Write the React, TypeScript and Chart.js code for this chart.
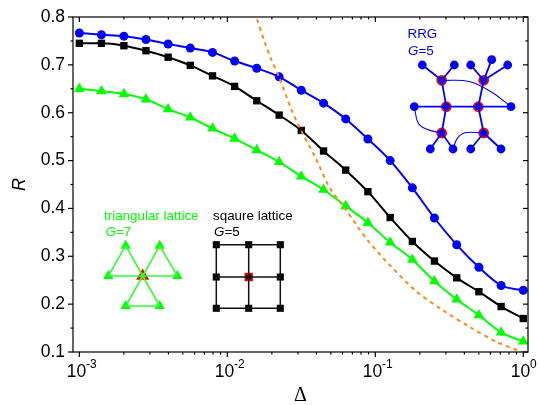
import React, { useEffect, useRef } from "react";
import { Chart, registerables } from "chart.js";

Chart.register(...registerables);

const deltaValues = [0.001, 0.00141, 0.002, 0.00282, 0.00398, 0.00562, 0.00794, 0.0112, 0.0158, 0.0224, 0.0316, 0.0447, 0.0631, 0.0891, 0.126, 0.178, 0.251, 0.355, 0.501, 0.708, 1];
const rrgR = [0.7665, 0.763, 0.76, 0.753, 0.7435, 0.735, 0.726, 0.708, 0.693, 0.675, 0.647, 0.62, 0.587, 0.545, 0.5, 0.443, 0.38, 0.324, 0.277, 0.239, 0.229];
const squareR = [0.745, 0.745, 0.74, 0.7295, 0.716, 0.699, 0.677, 0.655, 0.625, 0.595, 0.563, 0.52, 0.48, 0.435, 0.381, 0.331, 0.29, 0.255, 0.226, 0.195, 0.17];
const triangularR = [0.65, 0.645, 0.639, 0.628, 0.6075, 0.59, 0.567, 0.546, 0.522, 0.497, 0.467, 0.439, 0.405, 0.37, 0.329, 0.293, 0.248, 0.21, 0.177, 0.141, 0.122];
const theoryDelta = [0.0151, 0.0158, 0.018, 0.01995, 0.02234, 0.02723, 0.03148, 0.0391, 0.0494, 0.0624, 0.0748, 0.0889, 0.1089, 0.1194, 0.1854, 0.2735, 0.4365, 0.6607, 0.92, 1];
const theoryR = [0.81, 0.797, 0.745, 0.709, 0.675, 0.605, 0.563, 0.508, 0.442, 0.4, 0.365, 0.333, 0.302, 0.288, 0.229, 0.191, 0.152, 0.121, 0.103, 0.098];

const xTickExponents = [-3, -2, -1, 0];
const yTicks = [0.1, 0.2, 0.3, 0.4, 0.5, 0.6, 0.7, 0.8];

// Inset diagrams, in units measured from the lower-left corner of the plot.
const rrgLeaves = [[349.3, 287], [381.3, 287], [397.7, 287], [418.7, 292.3], [434.7, 287], [341.3, 245.3], [438, 245.3], [357.3, 203], [380, 203], [397.7, 203], [428, 203]];
const rrgHubs = [[368.7, 271.7], [410.7, 271.7], [373.3, 245.3], [405.3, 245.3], [368.7, 219], [410.7, 219]];
const rrgEdges = [
  [[349.3, 287], [368.7, 271.7]], [[381.3, 287], [368.7, 271.7]],
  [[397.7, 287], [410.7, 271.7]], [[418.7, 292.3], [410.7, 271.7]], [[434.7, 287], [410.7, 271.7]],
  [[368.7, 271.7], [373.3, 245.3]], [[410.7, 271.7], [405.3, 245.3]],
  [[373.3, 245.3], [368.7, 219]], [[405.3, 245.3], [410.7, 219]],
  [[341.3, 245.3], [438, 245.3]],
  [[368.7, 219], [357.3, 203]], [[368.7, 219], [380, 203]],
  [[410.7, 219], [397.7, 203]], [[410.7, 219], [428, 203]],
];
const rrgCurves = [
  [[368.7, 271.7], [397, 270.3], [420.3, 258.7], [438, 245.3]],
  [[341.3, 245.3], [345.3, 228.7], [353.7, 222.7], [368.7, 219]],
  [[380, 203], [384.3, 213.7], [392, 219.3], [410.7, 219]],
];
const triNodes = [[52.7, 106.3], [86.7, 106.3], [35.3, 76], [104.3, 76], [52.7, 46], [86.7, 46]];
const triCentre = [[69.7, 76]];
const triEdges = [
  [[35.3, 76], [104.3, 76]],
  [[35.3, 76], [52.7, 106.3], [69.7, 76]],
  [[69.7, 76], [86.7, 106.3], [104.3, 76]],
  [[69.7, 76], [52.7, 46], [86.7, 46], [69.7, 76]],
];
const sqXs = [143.3, 175.7, 207.3];
const sqYs = [107.3, 75, 43.7];
const sqNodes = sqXs.flatMap((x) => sqYs.map((y) => [x, y])).filter(([x, y]) => !(x === sqXs[1] && y === sqYs[1]));
const sqCentre = [[sqXs[1], sqYs[1]]];
const sqEdges = [
  ...sqXs.map((x) => sqYs.map((y) => [x, y])),
  ...sqYs.map((y) => sqXs.map((x) => [x, y])),
];

const BLUE = "#0000ff";
const GREEN = "#00ff00";
const BLACK = "#000000";
const RED = "#ff0000";
const ORANGE = "#ff8a1a";
const SANS = "'Liberation Sans', Arial, sans-serif";

const toPts = (list: number[][]) => list.map(([x, y]) => ({ x, y }));
const zip = (xs: number[], ys: number[]) => xs.map((x, i) => ({ x, y: ys[i] }));

function series(xs: number[], ys: number[], color: string, pointStyle: string, radius: number) {
  return {
    data: zip(xs, ys), showLine: true, borderColor: color, backgroundColor: color, borderWidth: 2,
    pointStyle, pointRadius: radius, pointBorderWidth: 0, cubicInterpolationMode: "monotone",
    xAxisID: "x", yAxisID: "y", clip: false,
  };
}
function line(list: number[][], color: string, width: number, tension = 0) {
  return {
    data: toPts(list), showLine: true, borderColor: color, borderWidth: width, pointRadius: 0,
    tension, xAxisID: "ix", yAxisID: "iy",
  };
}
function nodes(list: number[][], color: string, pointStyle: string, radius: number, ring = 0) {
  return {
    data: toPts(list), showLine: false, backgroundColor: color, pointStyle, pointRadius: radius,
    pointBorderColor: ring ? RED : color, pointBorderWidth: ring, xAxisID: "ix", yAxisID: "iy",
  };
}

const frame = {
  id: "frame",
  afterDraw(chart: any) {
    const { ctx, chartArea: a, scales } = chart;
    const xs = scales.x;
    const ys = scales.y;
    ctx.save();
    ctx.strokeStyle = BLACK;
    ctx.lineWidth = 1.2;
    ctx.strokeRect(a.left, a.top, a.right - a.left, a.bottom - a.top);
    const seg = (x1: number, y1: number, x2: number, y2: number) => {
      ctx.beginPath();
      ctx.moveTo(x1, y1);
      ctx.lineTo(x2, y2);
      ctx.stroke();
    };
    xTickExponents.forEach((e) => {
      for (let m = 1; m <= 9; m++) {
        const v = m * Math.pow(10, e);
        const p = xs.getPixelForValue(v);
        if (p < a.left || p > a.right) continue;
        const len = m === 1 ? 5 : 2.5;
        seg(p, a.bottom, p, a.bottom + len);
        seg(p, a.top, p, a.top + len);
      }
    });
    yTicks.forEach((t, i) => {
      const p = ys.getPixelForValue(t);
      seg(a.left, p, a.left - 5, p);
      seg(a.right, p, a.right - 5, p);
      if (i < yTicks.length - 1) {
        const q = ys.getPixelForValue(t + 0.05);
        seg(a.left, q, a.left - 2.5, q);
        seg(a.right, q, a.right - 2.5, q);
      }
    });
    ctx.fillStyle = BLACK;
    ctx.textBaseline = "alphabetic";
    ctx.textAlign = "left";
    xTickExponents.forEach((e) => {
      const p = xs.getPixelForValue(Math.pow(10, e));
      ctx.font = `17.5px ${SANS}`;
      ctx.fillText("10", p - 12.6, 377);
      ctx.font = `12px ${SANS}`;
      ctx.fillText(String(e), p + 6.6, 368);
    });
    const label = (parts: [string, boolean][], x: number, y: number, color: string) => {
      ctx.fillStyle = color;
      let cx = x;
      parts.forEach(([text, italic]) => {
        ctx.font = `${italic ? "italic " : ""}13.4px ${SANS}`;
        ctx.fillText(text, cx, y);
        cx += ctx.measureText(text).width;
      });
    };
    label([["RRG", false]], 407.5, 38, BLUE);
    label([["G", true], ["=5", false]], 408, 55, BLUE);
    label([["triangular lattice", false]], 104, 220, GREEN);
    label([["G", true], ["=7", false]], 105.5, 236, GREEN);
    label([["sqaure lattice", false]], 213, 220, BLACK);
    label([["G", true], ["=5", false]], 214, 236, BLACK);
    ctx.restore();
  },
};

export default function App() {
  const ref = useRef<HTMLCanvasElement>(null);
  useEffect(() => {
    const chart = new Chart(ref.current as HTMLCanvasElement, {
      type: "scatter",
      data: {
        datasets: [
          ...rrgEdges.map((e) => line(e, BLUE, 1.8)),
          ...rrgCurves.map((e) => line(e, BLUE, 1.1, 0.4)),
          nodes(rrgLeaves, BLUE, "circle", 4.4),
          nodes(rrgHubs, BLUE, "circle", 4.4, 2),
          ...triEdges.map((e) => line(e, "#33ff33", 1.6)),
          nodes(triNodes, GREEN, "triangle", 6),
          nodes(triCentre, GREEN, "triangle", 5.6, 2),
          ...sqEdges.map((e) => line(e, "#111111", 1.5)),
          nodes(sqNodes, BLACK, "rect", 5),
          nodes(sqCentre, BLACK, "rect", 4.8, 1.6),
          {
            data: zip(theoryDelta, theoryR), showLine: true, borderColor: ORANGE, borderWidth: 2,
            borderDash: [4, 4], pointRadius: 0, xAxisID: "x", yAxisID: "y", tension: 0.3,
          },
          series(deltaValues, triangularR, GREEN, "triangle", 6.2),
          series(deltaValues, squareR, BLACK, "rect", 5.2),
          series(deltaValues, rrgR, BLUE, "circle", 4.5),
        ] as any,
      },
      options: {
        responsive: false,
        animation: false,
        devicePixelRatio: 1,
        layout: { padding: { left: 0, top: 17, right: 12, bottom: 0 } },
        plugins: { legend: { display: false }, tooltip: { enabled: false }, title: { display: false } },
        scales: {
          x: {
            type: "logarithmic",
            position: "bottom",
            min: 0.000906,
            max: 1.076,
            grid: { display: false, drawTicks: false },
            border: { display: false },
            ticks: { display: false },
            title: {
              display: true,
              text: "Δ",
              color: BLACK,
              font: { family: "'Liberation Serif', serif", size: 20 },
              padding: { top: 0, bottom: -3 },
            },
            afterFit(s: any) {
              s.height = 53;
              s.paddingLeft = 0;
              s.paddingRight = 0;
            },
          },
          y: {
            type: "linear",
            position: "left",
            min: 0.1,
            max: 0.8,
            grid: { display: false, drawTicks: false },
            border: { display: false },
            ticks: {
              stepSize: 0.1,
              padding: 8,
              color: BLACK,
              font: { family: SANS, size: 17.5 },
              callback: (v: any) => Number(v).toFixed(1),
            },
            title: {
              display: true,
              text: "R",
              color: BLACK,
              font: { family: SANS, size: 18, style: "italic" },
              padding: { top: 9, bottom: 0 },
            },
            afterFit(s: any) {
              s.width = 73;
              s.paddingTop = 0;
              s.paddingBottom = 0;
            },
          },
          ix: { type: "linear", display: false, min: 0, max: 455 },
          iy: { type: "linear", display: false, min: 0, max: 335 },
        },
      } as any,
      plugins: [frame],
    });
    return () => chart.destroy();
  }, []);
  return (
    <div style={{ position: "absolute", left: 0, top: 0, width: 540, height: 405 }}>
      <canvas ref={ref} width={540} height={405} style={{ display: "block" }} />
    </div>
  );
}
